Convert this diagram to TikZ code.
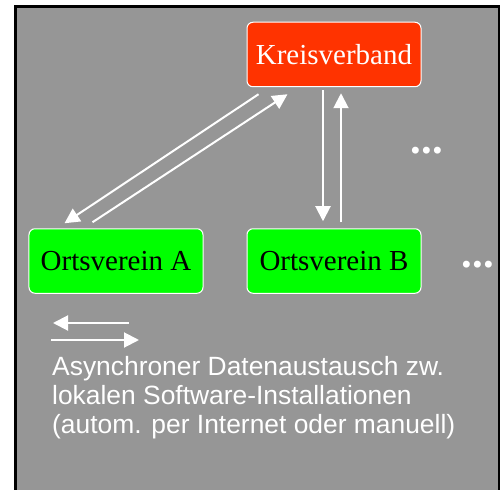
\documentclass[tikz,border=0pt]{standalone}
\usepackage{fontspec}
\setmainfont{Liberation Serif}
\setsansfont{Liberation Sans}
\usetikzlibrary{calc,arrows.meta}

\definecolor{bggrey}{RGB}{150,150,150}
\definecolor{kvred}{RGB}{255,51,0}
\definecolor{ovgreen}{RGB}{0,255,0}

\tikzset{
  unitbox/.style={draw=white, line width=1bp, rounded corners=6bp, minimum width=174bp, minimum height=64.5bp, inner sep=0pt, font=\fontsize{29bp}{35bp}\selectfont},
  flow/.style={draw=white, line width=2bp, -{Triangle[length=15bp,width=15bp]}},
  moredots/.style={text=white, font=\fontsize{42.7bp}{48bp}\selectfont\bfseries, inner sep=0pt, anchor=base},
}

\begin{document}
\begin{tikzpicture}[x=1bp,y=1bp,yscale=-1,xscale=1]
   	\useasboundingbox (0,0) rectangle (500,489.6);
   	% frame, open at the bottom
   	\fill [bggrey] (15.5,6.5) rectangle (500,489.6);
   	\draw [line width=3bp] (15.5,489.6) -- (15.5,6.5) -- (499.5,6.5) -- (499.5,489.6);
   	
   	\node [unitbox, fill=kvred, text=white] (kv) at (334,54.5) {Kreisverband};
   	\node [unitbox, fill=ovgreen] (oa) at (116,261) {Ortsverein A};
   	\node [unitbox, fill=ovgreen] (ob) at (334,261) {Ortsverein B};
   	
   	\draw [flow] ($(kv.south west)+(12,7)$) -- ($(oa.north west)+(36,-5)$);
   	\draw [flow] ($(oa.north west)+(64,-6)$) -- ($(kv.south west)+(41,7)$);
   	\draw [flow] ($(kv.south)+(-11,3)$) -- ($(ob.north)+(-11,-7)$);
   	\draw [flow] ($(ob.north)+(7,-6)$) -- ($(kv.south)+(7,6)$);
   	
   	\node [moredots] (dots1) at (426.7,154) {...};
   	\node [moredots] (dots2) at (477.7,267) {...};
   	
   	% legend
   	\coordinate (la1) at (129,323);
   	\coordinate (la2) at (53,323);
   	\coordinate (lb1) at (51,340);
   	\coordinate (lb2) at (139,340);
   	\draw [flow] (la1) -- (la2);
   	\draw [flow] (lb1) -- (lb2);
   	
   	\node [anchor=base west, align=left, inner sep=0pt, text=white, font=\sffamily\fontsize{26.4bp}{29bp}\selectfont] (legend) at (52,433) {Asynchroner Datenaustausch zw.\\lokalen Software-Installationen\\(autom. per Internet oder manuell)};
   	
\end{tikzpicture}
\end{document}
